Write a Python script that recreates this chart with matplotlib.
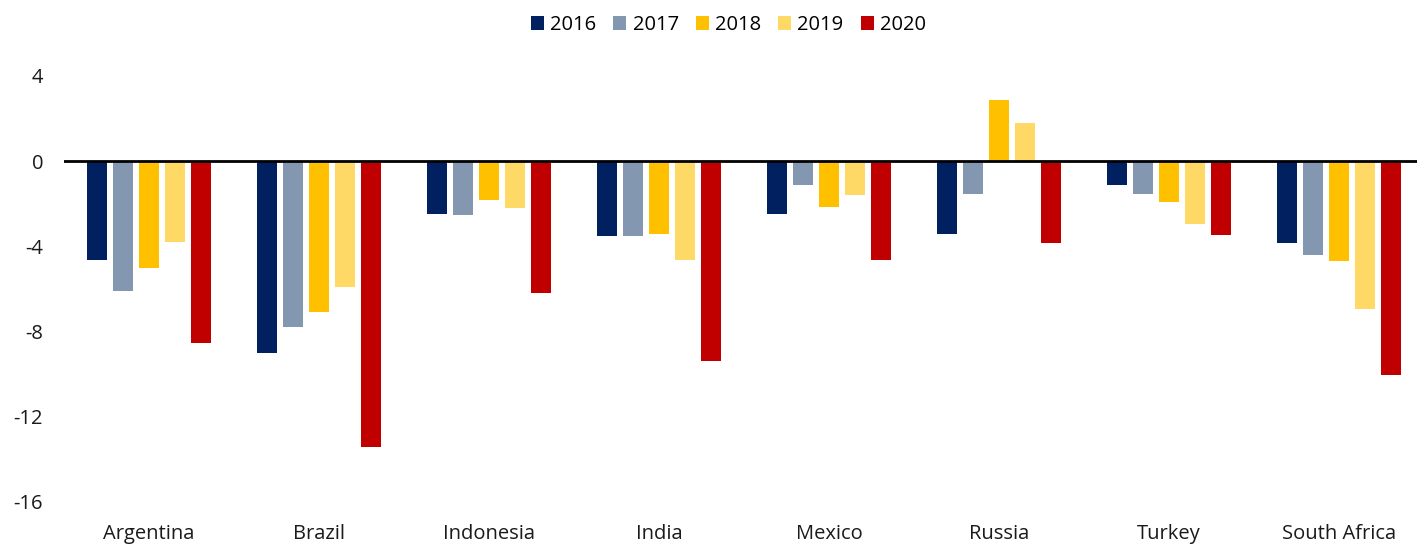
import matplotlib
matplotlib.use("Agg")
import matplotlib.pyplot as plt
import numpy as np

plt.rcParams['font.family'] = ['Open Sans', 'DejaVu Sans']
plt.rcParams['axes.unicode_minus'] = False

countries = ['Argentina', 'Brazil', 'Indonesia', 'India', 'Mexico', 'Russia', 'Turkey', 'South Africa']
years = ['2016', '2017', '2018', '2019', '2020']

v2016 = [-4.65, -9.0, -2.5, -3.5, -2.5, -3.4, -1.1, -3.85]
v2017 = [-6.1, -7.8, -2.55, -3.5, -1.1, -1.55, -1.55, -4.4]
v2018 = [-5.0, -7.1, -1.8, -3.4, -2.15, 2.85, -1.9, -4.7]
v2019 = [-3.8, -5.9, -2.2, -4.65, -1.6, 1.8, -2.95, -6.95]
v2020 = [-8.55, -13.4, -6.2, -9.4, -4.65, -3.85, -3.45, -10.05]

colors = ['#002060', '#8497B0', '#FFC000', '#FFD966', '#C00000']

fig = plt.figure(figsize=(14.17, 5.45), dpi=100)
ax = fig.add_axes([0.0452, 0.0789, 0.9598, 0.7817])

x = np.arange(len(countries))
step = 0.153
width = 0.118
for i, (vals, yr) in enumerate(zip([v2016, v2017, v2018, v2019, v2020], years)):
    ax.bar(x + (i - 2) * step, vals, width=width, color=colors[i], label=yr)

ax.axhline(0, color='black', lw=2, zorder=3)

ax.set_xlim(-0.5, len(countries) - 0.5)
ax.set_ylim(-16, 4)
ax.set_yticks([-16, -12, -8, -4, 0, 4])
ax.set_xticks(x)
ax.set_xticklabels(countries)
ax.tick_params(axis='both', length=0, labelsize=14.5, colors='#1a1a1a')
ax.tick_params(axis='y', pad=15)
ax.tick_params(axis='x', pad=16)
for s in ax.spines.values():
    s.set_visible(False)

fig.legend(loc='upper center', bbox_to_anchor=(0.514, 1.006), ncol=5, frameon=False,
           fontsize=14.5, handlelength=0.65, handleheight=0.65, handletextpad=0.3,
           columnspacing=0.85)

fig.savefig('out.png', dpi=100)
